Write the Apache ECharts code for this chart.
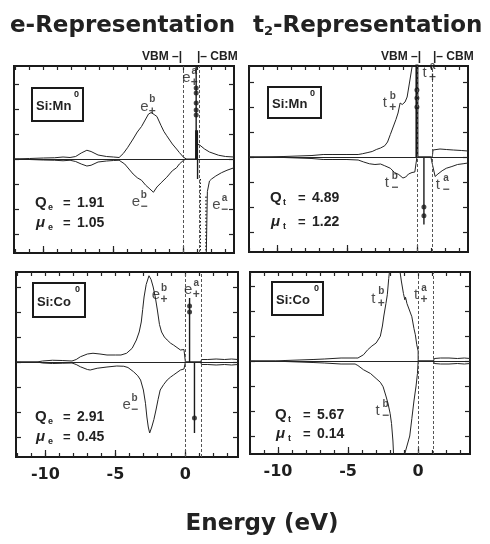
<!DOCTYPE html>
<html>
<head>
<meta charset="utf-8">
<script src="https://cdn.jsdelivr.net/npm/echarts@6/dist/echarts.min.js"></script>
<style>
  html, body { margin: 0; padding: 0; background: #fff; }
  #chart { width: 490px; height: 544px; }
</style>
</head>
<body>
<div id="chart"></div>
<script>
// x: energy (eV), y: density of states in units of one y tick
const xTicks = [-12, -11, -10, -9, -8, -7, -6, -5, -4, -3, -2, -1, 0, 1, 2, 3];
const xMajor = [-10, -5, 0];
const yTicks = [-3, -2, -1, 0, 1, 2, 3];
const vbm = 0;
const cbm = 1.1;

const impurities = ['Si:Mn', 'Si:Mn', 'Si:Co', 'Si:Co'];
const qNames = ['e', 't', 'e', 't'];
const qValues = ['1.91', '4.89', '2.91', '5.67'];
const muValues = ['1.05', '1.22', '0.45', '0.14'];

// Si:Mn, e representation
const mnEUp = [[-12.1, 0], [-11, 0.02], [-10, 0.04], [-9.2, 0.05], [-8.6, 0.08], [-8.1, 0.06], [-7.7, 0.1],
  [-7.3, 0.24], [-6.9, 0.35], [-6.6, 0.3], [-6.1, 0.16], [-5.5, 0.1], [-5.0, 0.08], [-4.6, 0.06], [-4.3, 0.22],
  [-4.0, 0.45], [-3.6, 0.8], [-3.3, 1.08], [-3.0, 1.3], [-2.7, 1.6], [-2.5, 1.8], [-2.3, 1.86], [-2.1, 1.78],
  [-1.9, 1.7], [-1.6, 1.33], [-1.4, 1.1], [-1.2, 0.93], [-0.8, 0.6], [-0.5, 0.4], [-0.3, 0.26], [0, 0.07],
  [0.2, 0], [0.88, 0], [0.95, 0.6], [1.15, 0.56], [1.5, 0.4], [1.85, 0.28], [2.5, 0.15], [3.0, 0.1], [3.6, 0.08]];
const mnEDown = [[-12.1, 0], [-11, -0.02], [-10, -0.04], [-9.2, -0.05], [-8.6, -0.07], [-8.1, -0.05], [-7.7, -0.1],
  [-7.3, -0.2], [-6.9, -0.28], [-6.6, -0.25], [-6.1, -0.12], [-5.5, -0.08], [-5.0, -0.06], [-4.6, -0.05],
  [-4.2, -0.2], [-3.9, -0.4], [-3.6, -0.6], [-3.3, -0.75], [-3.0, -0.85], [-2.7, -1.05], [-2.4, -1.2],
  [-2.15, -1.33], [-1.9, -1.12], [-1.6, -0.95], [-1.2, -0.73], [-0.8, -0.47], [-0.5, -0.35], [-0.3, -0.2],
  [0, -0.05], [0.2, 0], [1.3, '-'], [1.62, -3.9], [1.7, -1.3], [1.85, -0.88], [2.0, -0.8], [2.3, -0.68],
  [2.7, -0.55], [3.1, -0.45], [3.6, -0.35]];
const mnESpikes = [[0.9, 0, 3.9], [0.93, 0, 1.15], [1.0, 0, -0.8], [1.2, -0.8, -3.9], [1.6, -1.5, -3.9]];
const mnEDots = [[0.9, 2.84], [0.9, 2.64], [0.9, 2.24], [0.9, 1.96], [0.9, 1.76]];

// Si:Mn, t2 representation
const mnTUp = [[-12, 0], [-10.5, 0.01], [-9.5, 0.02], [-8.5, 0.04], [-7.5, 0.06], [-6.7, 0.1], [-6, 0.1],
  [-5, 0.1], [-4.2, 0.1], [-3.9, 0.13], [-3.5, 0.18], [-3.2, 0.22], [-2.9, 0.3], [-2.6, 0.36], [-2.3, 0.45],
  [-2.1, 0.6], [-1.9, 0.9], [-1.7, 1.2], [-1.5, 1.5], [-1.35, 1.76], [-1.2, 2.16], [-1.05, 2.1], [-0.85, 2.2],
  [-0.7, 2.4], [-0.5, 3.08], [-0.35, 3.6], [-0.25, 3.9], [0, 3.9], [0, 0], [1.1, 0], [1.15, 0.28],
  [1.65, 0.32], [2.1, 0.3], [2.6, 0.28], [3.2, 0.26], [3.65, 0.24]];
const mnTDown = [[-12, 0], [-10.5, -0.01], [-9.5, -0.02], [-8.5, -0.04], [-7.5, -0.06], [-6.7, -0.1],
  [-6, -0.1], [-5, -0.1], [-4.2, -0.12], [-3.8, -0.2], [-3.4, -0.27], [-3.0, -0.3], [-2.6, -0.28],
  [-2.3, -0.35], [-1.9, -0.45], [-1.6, -0.62], [-1.3, -0.7], [-1.0, -0.84], [-0.8, -0.8], [-0.6, -0.68],
  [-0.35, -0.62], [-0.15, -0.6], [-0.05, -0.2], [0, 0], [1.0, 0], [1.05, -0.15], [1.3, -0.78], [1.5, -0.68],
  [1.8, -0.55], [2.1, -0.45], [2.5, -0.38], [2.9, -0.3], [3.3, -0.27], [3.65, -0.24]];
const mnTSpikes = [[0, 0, 3.9], [0.5, 0, -2.7]];
const mnTDots = [[0, 2.68], [0, 2.36], [0, 2.0], [0.5, -2.0], [0.5, -2.35]];

// Si:Co, e representation
const coEUp = [[-12.1, 0], [-10.6, 0], [-10.2, 0.04], [-9.5, 0.07], [-8.8, 0.06], [-8.1, 0.04], [-7.8, 0.1],
  [-7.5, 0.21], [-7.0, 0.32], [-6.6, 0.35], [-6.1, 0.32], [-5.6, 0.28], [-5.0, 0.28], [-4.6, 0.28],
  [-4.2, 0.35], [-3.8, 0.55], [-3.5, 0.88], [-3.3, 1.2], [-3.15, 1.6], [-3.05, 2.1], [-2.95, 2.6],
  [-2.8, 3.1], [-2.6, 3.45], [-2.45, 3.3], [-2.3, 3.0], [-2.15, 2.6], [-2.0, 2.08], [-1.85, 1.5],
  [-1.7, 1.2], [-1.5, 1.0], [-1.3, 0.88], [-1.05, 0.75], [-0.85, 0.68], [-0.6, 0.58], [-0.35, 0.48],
  [-0.1, 0.5], [0, 0.48], [0, 0], [1.1, 0], [1.15, 0.1], [1.6, 0.1], [2.2, 0.12], [2.8, 0.1], [3.3, 0.12],
  [3.76, 0.1]];
const coEDown = [[-12.1, 0], [-10.6, 0], [-10.2, -0.04], [-9.5, -0.06], [-8.8, -0.05], [-8.1, -0.04],
  [-7.8, -0.1], [-7.5, -0.19], [-7.0, -0.3], [-6.8, -0.32], [-6.3, -0.25], [-5.6, -0.2], [-4.9, -0.16],
  [-4.4, -0.17], [-4.1, -0.22], [-3.7, -0.39], [-3.4, -0.55], [-3.2, -0.72], [-3.0, -1.12], [-2.85, -1.65],
  [-2.75, -2.2], [-2.65, -2.6], [-2.55, -2.84], [-2.4, -2.6], [-2.25, -2.3], [-2.1, -1.92], [-1.95, -1.5],
  [-1.8, -1.12], [-1.55, -0.9], [-1.3, -0.72], [-1.05, -0.6], [-0.85, -0.52], [-0.6, -0.42], [-0.35, -0.32],
  [-0.1, -0.28], [0, -0.25], [0, 0], [1.1, 0], [1.15, -0.1], [1.6, -0.1], [2.2, -0.12], [2.8, -0.1],
  [3.3, -0.12], [3.76, -0.1]];
const coESpikes = [[0.3, 0, 2.56], [0.65, 0, -2.84]];
const coEDots = [[0.3, 2.24], [0.3, 2.0], [0.65, -2.24]];

// Si:Co, t2 representation
const coTUp = [[-12, 0], [-10.2, 0], [-9.5, 0.02], [-8.5, 0.04], [-7.5, 0.06], [-6.7, 0.08], [-6.6, 0.12],
  [-5.5, 0.12], [-4.5, 0.12], [-4.3, 0.12], [-3.9, 0.25], [-3.6, 0.45], [-3.3, 0.6], [-3.0, 0.72],
  [-2.7, 0.99], [-2.55, 1.4], [-2.45, 1.8], [-2.3, 2.3], [-2.2, 2.65], [-2.1, 3.3], [-2.0, 3.8],
  [-1.35, 3.8], [-1.2, 3.2], [-1.05, 2.7], [-0.95, 2.45], [-0.9, 2.55], [-0.8, 2.3], [-0.6, 2.0],
  [-0.45, 1.77], [-0.3, 1.3], [-0.2, 1.05], [-0.1, 0.65], [0, 0.4], [0, 0], [1.1, 0], [1.15, 0.1],
  [1.6, 0.12], [2.2, 0.12], [2.8, 0.1], [3.3, 0.12], [3.7, 0.1]];
const coTDown = [[-12, 0], [-10.2, 0], [-9.5, -0.02], [-8.5, -0.04], [-7.5, -0.06], [-6.7, -0.08],
  [-6.6, -0.12], [-5.5, -0.12], [-4.5, -0.12], [-4.3, -0.18], [-3.9, -0.35], [-3.4, -0.5], [-3.0, -0.7],
  [-2.7, -0.85], [-2.5, -1.03], [-2.3, -1.4], [-2.15, -1.7], [-2.0, -2.1], [-1.9, -2.5], [-1.8, -3.2],
  [-1.75, -3.8], [-1.0, -3.8], [-0.6, -3.0], [-0.45, -2.3], [-0.3, -1.6], [-0.15, -1.0], [-0.05, -0.5],
  [0, 0], [1.1, 0], [1.15, -0.1], [1.6, -0.12], [2.2, -0.12], [2.8, -0.1], [3.3, -0.12], [3.7, -0.1]];
const coTSpikes = [];
const coTDots = [];

// level labels: letter, superscript, subscript, anchor [eV, dos]
const mnENotes = [['e', 'b', '+', [-2.8, 2.1]], ['e', 'a', '+', [0.2, 3.24]],
  ['e', 'b', '−', [-3.4, -1.72]], ['e', 'a', '−', [2.35, -1.84]]];
const mnTNotes = [['t', 'b', '+', [-2.3, 2.16]], ['t', 'a', '+', [0.55, 3.36]],
  ['t', 'b', '−', [-2.15, -1.04]], ['t', 'a', '−', [1.5, -1.12]]];
const coENotes = [['e', 'b', '+', [-2.1, 2.68]], ['e', 'a', '+', [0.2, 2.88]],
  ['e', 'b', '−', [-4.2, -1.72]]];
const coTNotes = [['t', 'b', '+', [-3.2, 2.5]], ['t', 'a', '+', [-0.15, 2.64]],
  ['t', 'b', '−', [-2.9, -2.0]]];

const ink = '#242424';
const labelFont = '"Liberation Sans", Arial, sans-serif';
const headFont = '"DejaVu Sans", sans-serif';

const panels = [
  {grid: {left: 14, top: 66, width: 220, height: 187}, x: [-12.1, 3.6], y: [-3.76, 3.72],
    up: mnEUp, down: mnEDown, spikes: mnESpikes, kinds: ['solid', 'thick', 'solid', 'dotted', 'dotted'],
    dots: mnEDots, notes: mnENotes, labels: false,
    box: [32, 88, 51, 33], q: [35, 203, 223]},
  {grid: {left: 249, top: 66, width: 219, height: 186}, x: [-12.0, 3.65], y: [-3.8, 3.64],
    up: mnTUp, down: mnTDown, spikes: mnTSpikes, kinds: ['thick', 'solid'],
    dots: mnTDots, notes: mnTNotes, labels: false,
    box: [268, 87, 53, 31], q: [270, 198, 222]},
  {grid: {left: 16, top: 272, width: 222, height: 185}, x: [-12.1, 3.76], y: [-3.8, 3.6],
    up: coEUp, down: coEDown, spikes: coESpikes, kinds: ['solid', 'solid'],
    dots: coEDots, notes: coENotes, labels: true,
    box: [33, 283, 52, 34], q: [35, 417, 437]},
  {grid: {left: 250, top: 272, width: 220, height: 182}, x: [-12.0, 3.7], y: [-3.72, 3.56],
    up: coTUp, down: coTDown, spikes: coTSpikes, kinds: [],
    dots: coTDots, notes: coTNotes, labels: true,
    box: [272, 282, 51, 33], q: [275, 415, 434]}
];

const spikeStyle = {
  solid: {width: 1.4, type: 'solid'},
  thick: {width: 3, type: 'solid'},
  dotted: {width: 1.2, type: [1.5, 2]}
};

const grids = [], xAxes = [], yAxes = [], series = [];

function xAxis(p, i, pos, ticks, len, withLabels) {
  return {
    type: 'value', gridIndex: i, position: pos, min: p.x[0], max: p.x[1],
    axisLine: {show: false, onZero: false}, splitLine: {show: false},
    axisTick: {show: true, inside: true, length: len, customValues: ticks, lineStyle: {color: ink, width: 1.2}},
    axisLabel: {
      show: withLabels, customValues: xMajor, margin: 10,
      color: '#1e1e1e', fontFamily: headFont, fontWeight: 'bold', fontSize: 16
    }
  };
}

function yAxis(p, i, pos) {
  return {
    type: 'value', gridIndex: i, position: pos, min: p.y[0], max: p.y[1],
    axisLine: {show: false, onZero: false}, splitLine: {show: false}, axisLabel: {show: false},
    axisTick: {show: true, inside: true, length: 5, customValues: yTicks, lineStyle: {color: ink, width: 1.2}}
  };
}

panels.forEach((p, i) => {
  grids.push(Object.assign({show: true, borderColor: '#1a1a1a', borderWidth: 2, backgroundColor: 'transparent'}, p.grid));
  xAxes.push(xAxis(p, i, 'bottom', xTicks, 4, p.labels));
  xAxes.push(xAxis(p, i, 'top', xTicks, 4, false));
  xAxes.push(xAxis(p, i, 'bottom', xMajor, 7, false));
  yAxes.push(yAxis(p, i, 'left'));
  yAxes.push(yAxis(p, i, 'right'));

  const base = {xAxisIndex: 3 * i, yAxisIndex: 2 * i, animation: false, silent: true};
  const line = (data, extra) => Object.assign({
    type: 'line', data: data, symbol: 'none', clip: true, connectNulls: false,
    lineStyle: {color: ink, width: 1}
  }, base, extra || {});

  series.push(line(p.up, {
    markLine: {
      symbol: ['none', 'none'], silent: true, animation: false, label: {show: false},
      lineStyle: {color: '#555', width: 1, type: [3, 2]},
      data: [{xAxis: vbm}, {xAxis: cbm}, {yAxis: 0, lineStyle: {type: 'solid', color: ink, width: 1}}]
    }
  }));
  series.push(line(p.down));

  p.spikes.forEach((s, k) => {
    series.push(line([[s[0], s[1]], [s[0], s[2]]], {
      lineStyle: Object.assign({color: '#1a1a1a'}, spikeStyle[p.kinds[k]])
    }));
  });

  series.push(Object.assign({type: 'scatter', data: p.dots, symbolSize: 5, itemStyle: {color: '#1a1a1a'}}, base));

  const notes = [];
  p.notes.forEach(n => {
    notes.push({value: n[3], label: {formatter: n[0], fontSize: 15, offset: [0, 0]}});
    notes.push({value: n[3], label: {formatter: n[1], fontSize: 10, fontWeight: 'bold', offset: [8, -7]}});
    notes.push({value: n[3], label: {formatter: n[2], fontSize: 12, fontWeight: 'bold', offset: [8, 5]}});
  });
  series.push(Object.assign({
    type: 'scatter', data: notes, symbolSize: 1, itemStyle: {color: 'rgba(0,0,0,0)'}, z: 5,
    label: {show: true, position: 'inside', color: '#1e1e1e', fontFamily: labelFont}
  }, base));
});

function text(x, y, str, font, align, extra) {
  return Object.assign({
    type: 'text', x: x, y: y, z: 100, silent: true,
    style: {text: str, font: font, fill: '#222', align: align || 'left', verticalAlign: 'middle'}
  }, extra || {});
}

const graphic = [
  text(10, 26, 'e-Representation', 'bold 23px ' + headFont),
  text(253, 26, 't', 'bold 23px ' + headFont),
  text(264, 32, '2', 'bold 13px ' + headFont),
  text(273, 26, '-Representation', 'bold 23px ' + headFont),
  text(182, 57, 'VBM –|', 'bold 12px ' + labelFont, 'right'),
  text(197, 57, '|– CBM', 'bold 12px ' + labelFont),
  text(421, 57, 'VBM –|', 'bold 12px ' + labelFont, 'right'),
  text(433, 57, '|– CBM', 'bold 12px ' + labelFont),
  text(262, 524, 'Energy (eV)', 'bold 23px ' + headFont, 'center')
];

panels.forEach((p, i) => {
  const b = p.box;
  graphic.push({type: 'rect', z: 99, silent: true, shape: {x: b[0], y: b[1], width: b[2], height: b[3]},
    style: {fill: '#fff', stroke: '#1a1a1a', lineWidth: 2}});
  graphic.push(text(b[0] + 4, b[1] + b[3] / 2 + 2, impurities[i], 'bold 13px ' + labelFont));
  graphic.push(text(b[0] + 42, b[1] + 7, '0', 'bold 9px ' + labelFont));

  const q = p.q;
  graphic.push(text(q[0], q[1], 'Q', 'bold 15px ' + labelFont));
  graphic.push(text(q[0] + 13, q[1] + 5, qNames[i], 'bold 9px ' + labelFont));
  graphic.push(text(q[0] + 28, q[1], '=', 'bold 13px ' + labelFont));
  graphic.push(text(q[0] + 42, q[1], qValues[i], 'bold 14px ' + labelFont));
  graphic.push(text(q[0] + 1, q[2], 'μ', 'italic bold 15px ' + labelFont));
  graphic.push(text(q[0] + 13, q[2] + 5, qNames[i], 'bold 9px ' + labelFont));
  graphic.push(text(q[0] + 28, q[2], '=', 'bold 13px ' + labelFont));
  graphic.push(text(q[0] + 42, q[2], muValues[i], 'bold 14px ' + labelFont));
});

const chart = echarts.init(document.getElementById('chart'));
chart.setOption({
  animation: false,
  backgroundColor: '#fff',
  grid: grids,
  xAxis: xAxes,
  yAxis: yAxes,
  series: series,
  graphic: graphic
});
</script>
</body>
</html>
